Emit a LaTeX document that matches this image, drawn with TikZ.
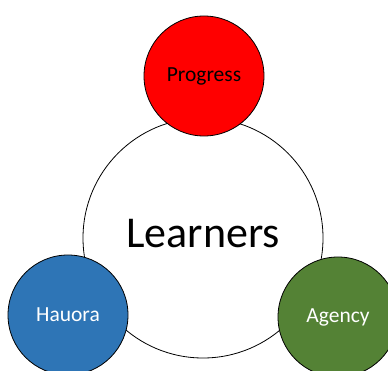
\documentclass[tikz,border=0pt]{standalone}
\usepackage{fontspec}
\setmainfont{Carlito}
\definecolor{progressred}{HTML}{FF0000}
\definecolor{hauorablue}{HTML}{2E75B6}
\definecolor{agencygreen}{HTML}{548235}

\begin{document}
\begin{tikzpicture}[x=1pt, y=-1pt,
        petal/.style={circle, draw=black, line width=0.8pt, minimum size=120pt, inner sep=0pt,
            font=\fontsize{21.5}{24}\selectfont}]
        \useasboundingbox (0,0) rectangle (388,371);
        \clip (0,0) rectangle (388,371);
        \node[circle, draw=black, line width=0.8pt, minimum size=240pt] (learners) at (203,238) {};
        \node[font=\fontsize{44}{48}\selectfont] (learnerstext) at (203,234) {Learners};
        \node[petal, fill=progressred, text=black] (progress) at (204,76) {Progress};
        \node[petal, fill=hauorablue, text=white] (hauora) at (68,315) {Hauora};
        \node[petal, fill=agencygreen, text=white] (agency) at (338,317) {Agency};
    \end{tikzpicture}
\end{document}
